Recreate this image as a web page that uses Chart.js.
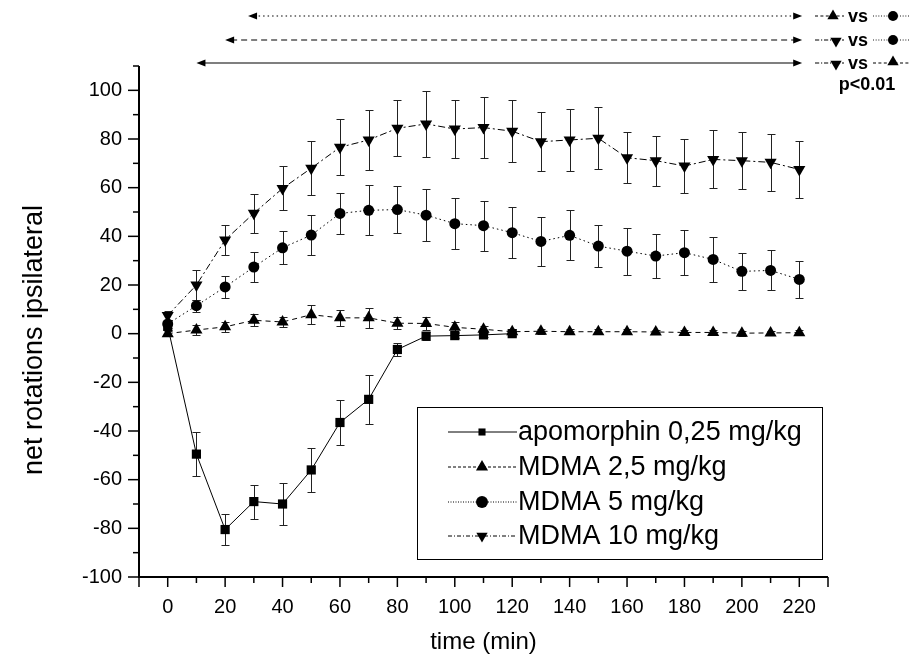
<!DOCTYPE html>
<html>
<head>
<meta charset="utf-8">
<script src="https://cdn.jsdelivr.net/npm/chart.js@4.4.0/dist/chart.umd.min.js"></script>
<style>
  html, body { margin:0; padding:0; background:#fff; }
  #wrap { width:909px; height:658px; position:relative; }
</style>
</head>
<body>
<div id="wrap"><canvas id="chart"></canvas></div>
<script>
/* ===== Data ===== */
const times = [0,10,20,30,40,50,60,70,80,90,100,110,120,130,140,150,160,170,180,190,200,210,220];

const apoValues = [3,-49.5,-80.5,-69,-70,-56,-36.5,-27,-6.5,-1,-0.8,-0.5,0];
const apoErr    = [1.5,9,6.5,7,8.5,9,9.3,10,2.5,1.5,1,1,0.8];

const mdma25Values = [0,1.5,2.8,5.5,4.8,7.8,6.5,6.5,4.3,4.2,2.6,1.8,0.8,1,0.8,0.8,0.8,0.7,0.5,0.5,0.2,0.3,0.4];
const mdma25Err    = [1,2,2,2.5,2,3.8,3.2,4,2.5,2.5,2,1.5,1,1,1,1,1,1,1,1,1,1,1];

const mdma5Values = [4,11.5,19.2,27.4,35.3,40.5,49.4,50.7,51,48.7,45.2,44.4,41.5,37.9,40.4,36,33.9,31.9,33.3,30.5,25.6,26,22.3];
const mdma5Err    = [1.5,2.5,4.7,6,6.7,8.1,8.6,10.3,9.8,10.7,10.4,10.3,10.6,9.9,10.3,8.7,9.6,9,9.1,9.2,7.6,8.2,7.6];

const mdma10Values = [7.5,20,38.5,49.5,59.7,68,76.6,79.6,84.4,86.2,84.1,84.7,83.2,78.9,79.6,80.3,72.3,71.1,68.9,71.6,71.1,70.4,67.5];
const mdma10Err    = [2,6,6.3,8,9,11,11.5,12.3,11.5,13.5,12,12.4,12.7,12,12.8,12.7,10.4,10.3,10.9,11.9,11.8,11.8,11.7];

const seriesLabels = ['apomorphin 0,25 mg/kg','MDMA 2,5 mg/kg','MDMA 5 mg/kg','MDMA 10 mg/kg'];

const xTickLabels = [0,20,40,60,80,100,120,140,160,180,200,220];
const yTickLabels = [-100,-80,-60,-40,-20,0,20,40,60,80,100];

// significance bars at the top (start time -> end time)
const sigStart = [28,20,10];
const sigEnd   = [221,221,221];

/* ===== Styles ===== */
const FONT = '"Liberation Sans", Arial, sans-serif';
const styles = [
  {shape:'rect',    r:6.5, dash:[]},
  {shape:'tri',     r:7,   dash:[5,4]},
  {shape:'circle',  r:5.5, dash:[1.5,3]},
  {shape:'triDown', r:7,   dash:[7,3,2,3]}
];
const seriesList = [
  {values:apoValues,    err:apoErr},
  {values:mdma25Values, err:mdma25Err},
  {values:mdma5Values,  err:mdma5Err},
  {values:mdma10Values, err:mdma10Err}
];

function marker(ctx, shape, x, y, r){
  ctx.beginPath();
  if(shape==='rect'){ const s=r*Math.SQRT1_2; ctx.rect(x-s,y-s,2*s,2*s); }
  else if(shape==='circle'){ ctx.arc(x,y,r,0,Math.PI*2); }
  else if(shape==='tri'){ ctx.moveTo(x,y-r); ctx.lineTo(x+r*0.866,y+r*0.5); ctx.lineTo(x-r*0.866,y+r*0.5); ctx.closePath(); }
  else { ctx.moveTo(x,y+r); ctx.lineTo(x+r*0.866,y-r*0.5); ctx.lineTo(x-r*0.866,y-r*0.5); ctx.closePath(); }
  ctx.fillStyle='#000'; ctx.fill();
}
function seg(ctx, x1, y1, x2, y2, dash, w){
  ctx.save(); ctx.setLineDash(dash||[]); ctx.lineWidth=w||1; ctx.strokeStyle='#000';
  ctx.beginPath(); ctx.moveTo(x1,y1); ctx.lineTo(x2,y2); ctx.stroke(); ctx.restore();
}

/* ===== Error bars (behind the markers) ===== */
const errorBars = {
  id:'errorBars',
  beforeDatasetsDraw(chart){
    const {ctx, scales:{x,y}} = chart;
    ctx.save(); ctx.strokeStyle='#222'; ctx.lineWidth=1;
    seriesList.forEach(s=>{
      s.values.forEach((v,i)=>{
        const e=s.err[i];
        const px=Math.round(x.getPixelForValue(times[i]))+0.5;
        const top=Math.round(y.getPixelForValue(v+e))+0.5, bot=Math.round(y.getPixelForValue(v-e))+0.5;
        ctx.beginPath();
        ctx.moveTo(px,top); ctx.lineTo(px,bot);
        ctx.moveTo(px-4,top); ctx.lineTo(px+4,top);
        ctx.moveTo(px-4,bot); ctx.lineTo(px+4,bot);
        ctx.stroke();
      });
    });
    ctx.restore();
  }
};

/* ===== Axes, ticks, titles, legend, annotations ===== */
const decorations = {
  id:'decorations',
  afterDraw(chart){
    const {ctx, chartArea:a, scales:{x,y}} = chart;
    ctx.save();
    // axis lines
    seg(ctx, a.left, a.top, a.left, a.bottom+1, [], 2);
    seg(ctx, a.left-1, a.bottom, a.right, a.bottom, [], 2);
    // x ticks
    for(let t=x.min; t<=x.max; t+=10){
      const px=x.getPixelForValue(t);
      const major = xTickLabels.includes(t) || t===x.min || t===x.max;
      seg(ctx, px, a.bottom, px, a.bottom+(major?10:6), [], 1.5);
    }
    // y ticks
    for(let v=y.min; v<=y.max; v+=10){
      const py=y.getPixelForValue(v);
      const major = yTickLabels.includes(v);
      seg(ctx, a.left, py, a.left-(major?11:6), py, [], 1.5);
    }
    // axis titles
    ctx.fillStyle='#000';
    ctx.textAlign='center'; ctx.textBaseline='middle';
    ctx.font='24px '+FONT;
    ctx.fillText('time (min)', (a.left+a.right)/2, 642);
    ctx.font='27px '+FONT;
    ctx.save(); ctx.translate(35, 340); ctx.rotate(-Math.PI/2);
    ctx.fillText('net rotations ipsilateral', 0, 0); ctx.restore();

    // legend
    ctx.lineWidth=1; ctx.strokeStyle='#000';
    ctx.strokeRect(417.5, 407.5, 405, 152);
    const rows=[432,467,502,536];
    const lDash=[[],[3,2],[1,1.5],[4,2,1,2]];
    const lR=[5,7,6,6.5];
    ctx.font='27px '+FONT; ctx.textAlign='left'; ctx.textBaseline='middle';
    seriesLabels.forEach((lab,i)=>{
      seg(ctx, 448, rows[i], 517, rows[i], lDash[i], 1);
      marker(ctx, styles[i].shape, 482, rows[i], lR[i]);
      ctx.fillStyle='#000';
      ctx.fillText(lab, 518, rows[i]+1);
    });

    // significance arrows
    const ys=[16,40,63];
    const aDash=[[1.5,3],[6,4],[]];
    ys.forEach((yy,i)=>{
      const x1=x.getPixelForValue(sigStart[i]), x2=x.getPixelForValue(sigEnd[i]);
      seg(ctx, x1+6, yy, x2-6, yy, aDash[i], 1.2);
      ctx.beginPath(); ctx.moveTo(x1,yy); ctx.lineTo(x1+9,yy-3.5); ctx.lineTo(x1+9,yy+3.5); ctx.closePath(); ctx.fill();
      ctx.beginPath(); ctx.moveTo(x2,yy); ctx.lineTo(x2-9,yy-3.5); ctx.lineTo(x2-9,yy+3.5); ctx.closePath(); ctx.fill();
    });
    // comparison keys
    const keys=[
      {a:1,b:2},
      {a:3,b:2},
      {a:3,b:1}
    ];
    ctx.font='bold 18px '+FONT; ctx.textAlign='center';
    keys.forEach((k,i)=>{
      const yy=ys[i];
      const ax = k.a===3?836:833;
      seg(ctx, 815, yy, 844, yy, styles[k.a].dash.map(d=>d*0.6), 1);
      marker(ctx, styles[k.a].shape, ax, yy+(k.a===3?1:0), 6.5);
      ctx.fillStyle='#000'; ctx.fillText('vs', 858, yy+1);
      seg(ctx, 873, yy, 909, yy, styles[k.b].dash.map(d=>d*0.6), 1);
      marker(ctx, styles[k.b].shape, 893, yy+(k.b===1?-1:0), k.b===2?5:6.5);
    });
    ctx.font='bold 18px '+FONT;
    ctx.fillText('p<0.01', 867, 85);
    ctx.restore();
  }
};

const datasets = seriesList.map((s,i)=>({
  label: seriesLabels[i],
  data: s.values.map((v,j)=>({x:times[j], y:v})),
  borderColor:'#000', borderWidth:1, borderDash:styles[i].dash,
  pointStyle: styles[i].shape==='circle' ? 'circle' : (styles[i].shape==='rect' ? 'rect' : 'triangle'),
  pointRotation: styles[i].shape==='triDown' ? 180 : 0,
  pointRadius: styles[i].r, pointBackgroundColor:'#000', pointBorderColor:'#000', pointBorderWidth:0,
  fill:false, tension:0
}));

new Chart(document.getElementById('chart'), {
  type:'line',
  data:{ datasets },
  options:{
    responsive:true, maintainAspectRatio:false, animation:false,
    layout:{ padding:{ top:66, right:81, left:0, bottom:0 } },
    plugins:{ legend:{display:false}, tooltip:{enabled:false} },
    scales:{
      x:{
        type:'linear', min:-10, max:230,
        grid:{display:false}, border:{display:false},
        ticks:{ stepSize:10, autoSkip:false, maxRotation:0, padding:10, color:'#000',
          font:{family:FONT, size:20},
          callback:v=> xTickLabels.includes(v) ? String(v) : '' },
        afterFit:s=>{ s.height=81; }
      },
      y:{
        min:-100, max:110,
        grid:{display:false}, border:{display:false},
        ticks:{ stepSize:10, autoSkip:false, padding:9, color:'#000',
          font:{family:FONT, size:20},
          callback:v=> yTickLabels.includes(v) ? String(v) : '' },
        afterFit:s=>{ s.width=139; }
      }
    }
  },
  plugins:[errorBars, decorations]
});
</script>
</body>
</html>
